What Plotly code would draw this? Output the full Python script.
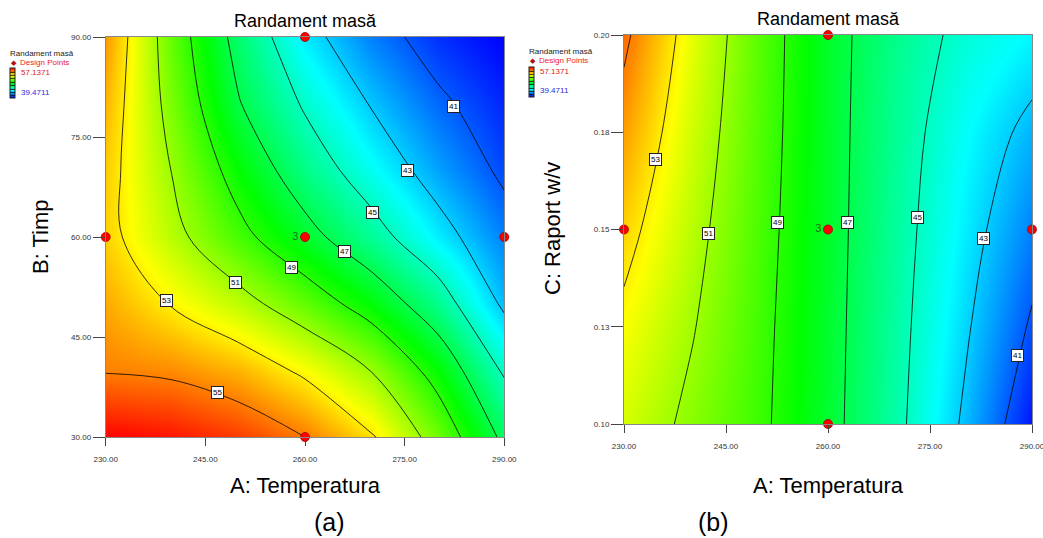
import plotly.graph_objects as go

# ---------------- data ----------------
# Panel (a): A: Temperatura (x) vs B: Timp (y)
temp_a = [230, 240, 250, 260, 270, 280, 290]
timp = [30, 40, 50, 60, 70, 80, 90]
yield_a = [
    [57.1371, 56.8, 56.1, 55.0, 53.2, 50.25, 46.6],   # 30
    [54.9, 54.7, 54.0, 52.7, 50.95, 48.3, 44.8],      # 40
    [54.2, 52.9, 51.6, 50.0, 48.2, 45.9, 42.7],       # 50
    [53.5, 51.5, 49.5, 47.6, 45.7, 43.65, 41.7],      # 60
    [53.6, 50.95, 48.3, 46.0, 44.1, 42.3, 40.7],      # 70
    [54.0, 50.4, 47.1, 44.8, 42.9, 41.3, 40.1],       # 80
    [54.5, 50.0, 46.4, 43.6, 41.7, 40.3, 39.4711],    # 90
]

# Panel (b): A: Temperatura (x) vs C: Raport w/v (y)
temp_b = [230, 240, 250, 260, 270, 280, 290]
raport = [0.10, 0.125, 0.15, 0.175, 0.20]
yield_b = [
    [52.0, 50.65, 49.3, 47.5, 45.4, 42.8, 39.8],      # 0.100
    [52.65, 51.1, 49.4, 47.55, 45.5, 43.25, 40.8],    # 0.125
    [53.5, 51.5, 49.55, 47.6, 45.6, 43.65, 41.7],     # 0.150
    [54.4, 51.9, 49.7, 47.6, 45.75, 44.0, 42.6],      # 0.175
    [55.3, 52.3, 49.8, 47.6, 45.9, 44.6, 43.8],       # 0.200
]

z_min, z_max = 39.4711, 57.1371

# design points
dp_a_x = [260, 230, 290, 260, 260]
dp_a_y = [90, 60, 60, 60, 30]
dp_b_x = [260, 230, 290, 260, 260]
dp_b_y = [0.20, 0.15, 0.15, 0.15, 0.10]
dp_text = ["", "", "", "3", ""]

# contour label values and where they sit
labels_a = [(55, 246.9, 36.75), (53, 239.2, 50.5), (51, 249.6, 53.25), (49, 258.0, 55.5),
            (47, 265.9, 57.75), (45, 270.2, 63.6), (43, 275.5, 69.9), (41, 282.3, 79.5)]
labels_b = [(53, 234.6, 0.168), (51, 242.4, 0.149), (49, 252.6, 0.1517), (47, 262.9, 0.1517),
            (45, 273.1, 0.153), (43, 282.8, 0.1478), (41, 287.9, 0.1177)]

x_ticks = [230, 245, 260, 275, 290]
x_ticktext = ["230.00", "245.00", "260.00", "275.00", "290.00"]
ya_ticks = [30, 45, 60, 75, 90]
ya_ticktext = ["30.00", "45.00", "60.00", "75.00", "90.00"]
yb_ticks = [0.10, 0.125, 0.15, 0.175, 0.20]
yb_ticktext = ["0.10", "0.13", "0.15", "0.18", "0.20"]

# ---------------- figure ----------------
W, H = 1043, 538
FONT = "Arial, Liberation Sans, sans-serif"


def fx(px):
    return px / W


def fy(py):
    return 1 - py / H


colorscale = [
    [0.0, "rgb(0,0,255)"],
    [0.25, "rgb(0,255,255)"],
    [0.5, "rgb(0,255,0)"],
    [0.75, "rgb(255,255,0)"],
    [1.0, "rgb(255,0,0)"],
]


def contour(x, y, z, xa, ya, cb_x, cb_y):
    return go.Contour(
        x=x, y=y, z=z, xaxis=xa, yaxis=ya,
        colorscale=colorscale, zmin=z_min, zmax=z_max, zauto=False,
        contours=dict(start=41, end=55, size=2, coloring="heatmap", showlabels=False),
        line=dict(color="black", width=0.8, smoothing=1.0),
        colorbar=dict(
            x=fx(cb_x), xanchor="left", y=fy(cb_y), yanchor="middle",
            thickness=5, thicknessmode="pixels", len=30, lenmode="pixels",
            xpad=0, ypad=0, outlinewidth=1, outlinecolor="#222",
            showticklabels=False, ticks="",
        ),
        hoverinfo="skip",
    )


fig = go.Figure()
fig.add_trace(contour(temp_a, timp, yield_a, "x", "y", 10, 83))
fig.add_trace(contour(temp_b, raport, yield_b, "x2", "y2", 529, 82))

for xs, ys, xa, ya in [(dp_a_x, dp_a_y, "x", "y"), (dp_b_x, dp_b_y, "x2", "y2")]:
    fig.add_trace(go.Scatter(
        x=xs, y=ys, xaxis=xa, yaxis=ya, mode="markers+text",
        text=dp_text, textposition="middle left",
        textfont=dict(color="#1f6f1f", size=11, family=FONT),
        marker=dict(color="#ff0000", size=9, line=dict(color="#a00000", width=0.8)),
        cliponaxis=False, showlegend=False, hoverinfo="skip",
    ))

annotations = []
for val, lx, ly in labels_a:
    annotations.append(dict(x=lx, y=ly, xref="x", yref="y", text=str(val), showarrow=False,
                            bgcolor="white", bordercolor="#222", borderwidth=1, borderpad=1,
                            font=dict(size=8, color="black", family=FONT)))
for val, lx, ly in labels_b:
    annotations.append(dict(x=lx, y=ly, xref="x2", yref="y2", text=str(val), showarrow=False,
                            bgcolor="white", bordercolor="#222", borderwidth=1, borderpad=1,
                            font=dict(size=8, color="black", family=FONT)))


def txt(text, px, py, size, color="black", xanchor="center", angle=0):
    annotations.append(dict(x=fx(px), y=fy(py), xref="paper", yref="paper", text=text,
                            showarrow=False, xanchor=xanchor, yanchor="middle", textangle=angle,
                            font=dict(size=size, color=color, family=FONT)))


# titles
txt("Randament masă", 305, 21, 18)
txt("Randament masă", 828, 19, 18)
# axis titles
txt("A: Temperatura", 305, 485, 22)
txt("A: Temperatura", 828, 485, 22)
txt("B: Timp", 40, 237, 22, angle=-90)
txt("C: Raport w/v", 552, 229, 22, angle=-90)
# panel letters
txt("(a)", 329, 522, 25)
txt("(b)", 713, 522, 25)
# legend blocks
for dx, dy in [(0, 0), (519, -1)]:
    txt("Randament masă", 8 + dx, 53 + dy, 8, "#222", "left")
    txt("◆", 9 + dx, 62 + dy, 7, "#b01010", "left")
    txt("Design Points", 18 + dx, 62 + dy, 8, "#ee2222", "left")
    txt("57.1371", 19 + dx, 72 + dy, 8, "#e02020", "left")
    txt("39.4711", 19 + dx, 92 + dy, 8, "#2a2ae0", "left")

axis_common = dict(showline=True, mirror=True, linecolor="#888", linewidth=1,
                   showgrid=False, zeroline=False, ticks="outside", tickcolor="#444",
                   tickfont=dict(size=8, color="#333", family=FONT))

fig.update_layout(
    width=W, height=H,
    margin=dict(l=0, r=0, t=0, b=0, pad=0, autoexpand=False),
    paper_bgcolor="white", plot_bgcolor="white",
    showlegend=False,
    annotations=annotations,
    xaxis=dict(domain=[fx(105.7), fx(504.3)], range=[230, 290], tickvals=x_ticks,
               ticktext=x_ticktext, ticklen=8, ticklabelstandoff=6, anchor="y", **axis_common),
    yaxis=dict(domain=[fy(437), fy(37)], range=[30, 90], tickvals=ya_ticks,
               ticktext=ya_ticktext, ticklen=12, anchor="x", **axis_common),
    xaxis2=dict(domain=[fx(624), fx(1032)], range=[230, 290], tickvals=x_ticks,
                ticktext=x_ticktext, ticklen=8, ticklabelstandoff=6, anchor="y2",
                ticklabeloverflow="allow", **axis_common),
    yaxis2=dict(domain=[fy(424), fy(35)], range=[0.10, 0.20], tickvals=yb_ticks,
                ticktext=yb_ticktext, ticklen=12, anchor="x2", **axis_common),
)

fig.write_html(
    "out.html",
    config={"displayModeBar": False},
    post_script="document.body.style.margin='0px';document.body.style.overflow='hidden';",
)
